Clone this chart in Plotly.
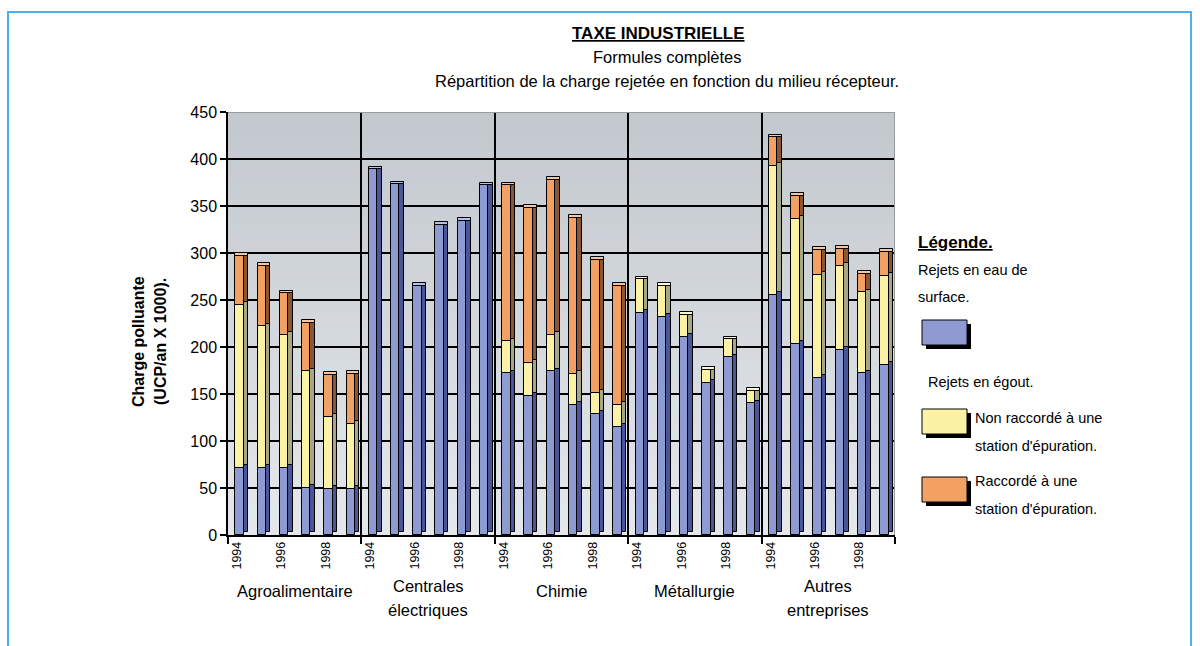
import plotly.graph_objects as go

# ---------------- data ----------------
categories = ["Agroalimentaire", "Centrales\nélectriques", "Chimie", "Métallurgie", "Autres\nentreprises"]
years = ["1994", "1995", "1996", "1997", "1998", "1999"]
year_labels = ["1994", "", "1996", "", "1998", ""]

surface = [71, 71, 71, 50, 49, 49,
           389, 373, 265, 330, 334, 372,
           172, 148, 174, 138, 129, 115,
           236, 232, 211, 162, 189, 140,
           255, 203, 167, 197, 172, 181]
non_raccorde = [174, 151, 142, 124, 77, 69,
                0, 0, 0, 0, 0, 0,
                34, 35, 39, 33, 22, 23,
                36, 33, 23, 14, 19, 13,
                138, 133, 110, 89, 86, 95]
raccorde = [52, 64, 44, 52, 44, 53,
            0, 0, 0, 0, 0, 0,
            166, 165, 165, 166, 142, 127,
            0, 0, 0, 0, 0, 0,
            30, 25, 26, 18, 20, 25]

y_ticks = [0, 50, 100, 150, 200, 250, 300, 350, 400, 450]

# ---------------- styling ----------------
FONT = "Liberation Sans, Arial, sans-serif"
L, R, T, B = 228, 305, 112, 111
W, H = 1200, 646
PW, PH = W - L - R, H - T - B

def px(x):
    return (x - L) / PW

def py(y):
    return (H - B - y) / PH

series = [
    ("Rejets en eau de surface", surface, "#8e9bd3", "#4b5699", "#b8c0e8"),
    ("Non raccordé à une station d'épuration", non_raccorde, "#fbf2a6", "#a6a688", "#fdf8d0"),
    ("Raccordé à une station d'épuration", raccorde, "#f2a163", "#8c5632", "#f7c69e"),
]

n = len(surface)
xs = list(range(n))
DEPTH = 3.0
FRONT_OFF, FRONT_W = 0.33, 0.38
SIDE_OFF, SIDE_W = 0.71, 0.2

fig = go.Figure()

base = [0.0] * n
for name, vals, col, side, top in series:
    fig.add_trace(go.Bar(
        x=xs, y=vals, base=[b + DEPTH for b in base],
        offset=SIDE_OFF, width=SIDE_W,
        marker=dict(color=side, line=dict(color="black", width=1)),
        showlegend=False, hoverinfo="skip"))
    fig.add_trace(go.Bar(
        x=xs, y=vals, base=base, name=name,
        offset=FRONT_OFF, width=FRONT_W,
        marker=dict(color=col, line=dict(color="black", width=1)),
        showlegend=False))
    base = [b + v for b, v in zip(base, vals)]

top_col = []
for i in range(n):
    if raccorde[i] > 0:
        top_col.append(series[2][4])
    elif non_raccorde[i] > 0:
        top_col.append(series[1][4])
    else:
        top_col.append(series[0][4])
fig.add_trace(go.Bar(
    x=xs, y=[DEPTH] * n, base=base,
    offset=FRONT_OFF, width=FRONT_W + SIDE_W,
    marker=dict(color=top_col, line=dict(color="black", width=1)),
    showlegend=False, hoverinfo="skip"))

shapes = []
nb = 45
c_top = (0xc3, 0xc8, 0xce)
c_bot = (0xe4, 0xe8, 0xeb)
for k in range(nb):
    t = k / (nb - 1)
    c = tuple(round(c_bot[j] + (c_top[j] - c_bot[j]) * t) for j in range(3))
    shapes.append(dict(type="rect", xref="x", yref="y", x0=0, x1=n,
                       y0=450 * k / nb, y1=450,
                       fillcolor="rgb(%d,%d,%d)" % c, line=dict(width=0), layer="below"))
shapes.append(dict(type="line", xref="x", yref="y", x0=0, x1=n, y0=450, y1=450,
                   line=dict(color="#9a9a9a", width=2), layer="above"))
shapes.append(dict(type="line", xref="x", yref="y", x0=n, x1=n, y0=0, y1=450,
                   line=dict(color="#9a9a9a", width=2), layer="above"))

shapes.append(dict(type="rect", xref="paper", yref="paper",
                   x0=px(8), x1=px(1191), y0=py(670), y1=py(12),
                   line=dict(color="#4db3e6", width=2), fillcolor="rgba(0,0,0,0)"))

annotations = []
def ann(txt, x, y, size, xanchor="center", angle=0):
    annotations.append(dict(text=txt, x=px(x), y=py(y), xref="paper", yref="paper",
                            showarrow=False, xanchor=xanchor, yanchor="middle",
                            textangle=angle, borderpad=0,
                            font=dict(family=FONT, size=size, color="black")))

ann("<b><u>TAXE INDUSTRIELLE</u></b>", 658, 33, 17)
ann("Formules complètes", 667, 57, 16.5)
ann("Répartition de la charge rejetée en fonction du milieu récepteur.", 667, 81, 16.5)
ann("<b>Charge polluante</b>", 138, 342, 16, angle=-90)
ann("<b>(UCP/an X 1000).</b>", 160, 342, 16, angle=-90)

ng = len(years)
for g, cat in enumerate(categories):
    lines = cat.split("\n")
    ys = [591] if len(lines) == 1 else [586, 610]
    for line, yy in zip(lines, ys):
        annotations.append(dict(text=line, x=g * ng + ng / 2, y=py(yy),
                                xref="x", yref="paper", showarrow=False,
                                yanchor="middle", borderpad=0,
                                font=dict(family=FONT, size=16.5, color="black")))

ann("<b><u>Légende.</u></b>", 917, 242, 17, xanchor="left")
ann("Rejets en eau de", 917, 270, 14.5, xanchor="left")
ann("surface.", 917, 297, 14.5, xanchor="left")
ann("Rejets en égout.", 927, 382, 14.5, xanchor="left")
ann("Non raccordé à une", 974, 418, 14.5, xanchor="left")
ann("station d'épuration.", 974, 446, 14.5, xanchor="left")
ann("Raccordé à une", 974, 481, 14.5, xanchor="left")
ann("station d'épuration.", 974, 509, 14.5, xanchor="left")

swatches = [(320, series[0][2]), (409, series[1][2]), (477, series[2][2])]
for (y0, col) in swatches:
    shapes.append(dict(type="rect", xref="paper", yref="paper",
                       x0=px(926), x1=px(971), y0=py(y0 + 29), y1=py(y0 + 4),
                       fillcolor="black", line=dict(width=0)))
    shapes.append(dict(type="rect", xref="paper", yref="paper",
                       x0=px(922), x1=px(967), y0=py(y0 + 25), y1=py(y0),
                       fillcolor=col, line=dict(color="black", width=1)))

tickvals = [i + 0.4 for i in range(n) if year_labels[i % ng]]
ticktext = [year_labels[i % ng] for i in range(n) if year_labels[i % ng]]

fig.update_layout(
    width=W, height=H,
    margin=dict(l=L, r=R, t=T, b=B),
    paper_bgcolor="white", plot_bgcolor="white",
    barmode="overlay", bargap=0,
    shapes=shapes, annotations=annotations,
    showlegend=False,
    xaxis=dict(range=[0, n], tickvals=tickvals, ticktext=ticktext, tickangle=-90,
               ticks="", showgrid=False, zeroline=False,
               showline=True, linecolor="black", linewidth=1.5,
               tickfont=dict(family=FONT, size=12.5, color="black"),
               minor=dict(tick0=0, dtick=ng, ticks="outside", ticklen=7,
                          tickcolor="black", tickwidth=1.5,
                          showgrid=True, gridcolor="black", gridwidth=1.5)),
    yaxis=dict(range=[0, 450], tickvals=y_ticks, ticks="outside", ticklen=6,
               tickcolor="black", tickwidth=1.5,
               showgrid=True, gridcolor="black", gridwidth=1.5, zeroline=False,
               showline=True, linecolor="black", linewidth=1.5,
               tickfont=dict(family=FONT, size=16, color="black")),
)

fig.write_html("out.html")
